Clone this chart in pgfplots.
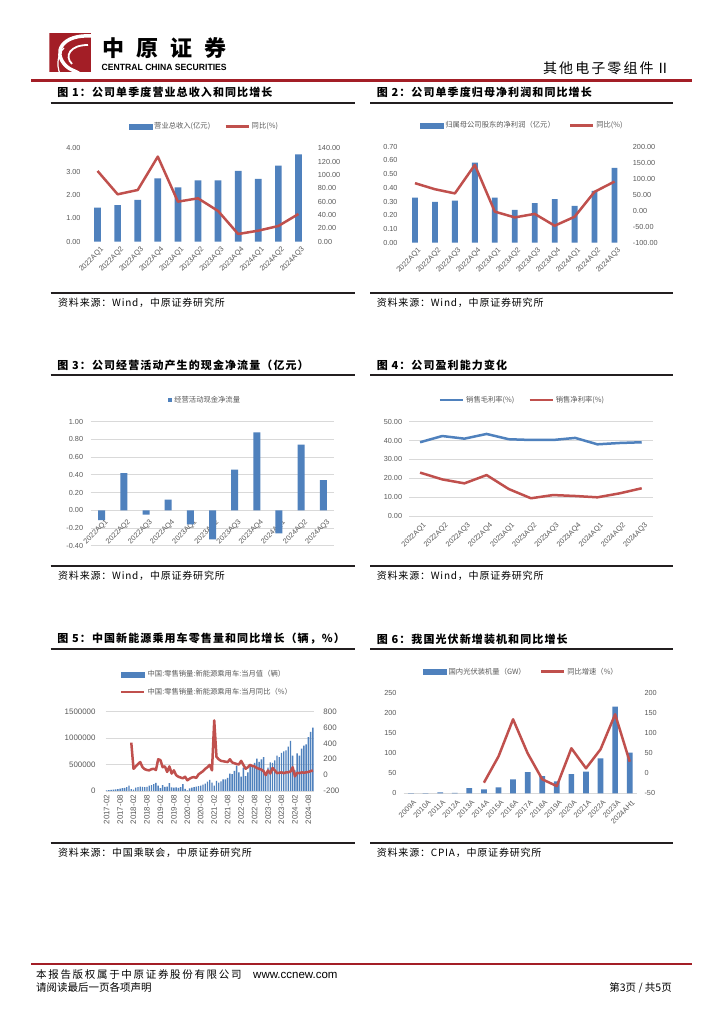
\documentclass[border=0pt]{standalone}
\usepackage{fontspec}
\usepackage{graphicx}
\usepackage{pgfplots}
\pgfplotsset{compat=1.18}
\setmainfont{Liberation Sans}
\newfontfamily\cjk{Noto Sans CJK SC}
\definecolor{cblue}{RGB}{79,129,189}
\definecolor{cred}{RGB}{192,80,77}
\definecolor{tickgray}{RGB}{89,89,89}
\definecolor{gridgray}{RGB}{217,217,217}
\definecolor{hred}{RGB}{163,30,38}
\definecolor{lineblk}{RGB}{35,31,32}
\newcommand\tickfont{\fontsize{7.3bp}{8.5bp}\selectfont}
\newcommand\tickfontb{\fontsize{7.9bp}{9bp}\selectfont}
\newcommand\legfont{\cjk\fontsize{7.3bp}{8.5bp}\selectfont}
\newcommand\titlefont{\cjk\bfseries\fontsize{11bp}{13bp}\selectfont\addfontfeature{LetterSpace=10}}
\newcommand\srcfont{\cjk\fontsize{10bp}{12bp}\selectfont\addfontfeature{LetterSpace=8}}

\pgfplotsset{
  base/.style={scale only axis, anchor=south west, axis line style={draw=none},
    major tick length=0pt, tick style={draw=none}, scaled y ticks=false,
    ticklabel style={font=\tickfont, text=tickgray},
    /pgf/number format/assume math mode=true, clip=false,
    legend style={draw=none, fill=none, font=\legfont, text=tickgray, legend cell align=left,
      inner sep=0pt, /tikz/every even column/.append style={column sep=12bp}}},
  yl/.style={yticklabel style={anchor=east, inner sep=0pt, xshift=-#1}},
  yr/.style={yticklabel style={anchor=west, inner sep=0pt, xshift=#1}},
  dec2/.style={yticklabel style={/pgf/number format/fixed, /pgf/number format/fixed zerofill, /pgf/number format/precision=2}},
  int/.style={yticklabel style={/pgf/number format/fixed, /pgf/number format/1000 sep={}}},
  xl45/.style 2 args={xticklabel style={xshift=#1, yshift=#2, rotate=45, anchor=north east, inner sep=0pt}},
  qx/.style={xmin=-0.5, xmax=10.5, xtick={0,...,10},
    xticklabels={2022AQ1,2022AQ2,2022AQ3,2022AQ4,2023AQ1,2023AQ2,2023AQ3,2023AQ4,2024AQ1,2024AQ2,2024AQ3}},
  barleg/.style={legend image code/.code={\fill[cblue] (0bp,-2.5bp) rectangle (23bp,2.5bp);}},
  redleg/.style={legend image code/.code={\draw[cred, line width=2.5bp] (0bp,0bp) -- (23bp,0bp);}},
  blueleg/.style={legend image code/.code={\draw[cblue, line width=2.5bp] (0bp,0bp) -- (23bp,0bp);}},
}

\begin{document}
\begin{tikzpicture}[x=1bp,y=1bp]
\fill[white] (0,0) rectangle (724,1024);
\path[use as bounding box] (0,0) rectangle (724,1024);

% ---------- header ----------
\begin{scope}
\clip (49.3,952.3) rectangle (91,990.7);
\fill[hred] (49.3,952.3) rectangle (91,990.7);
\draw[white, line width=3.5bp] (92,988) .. controls (62,990) and (52,972) .. (66,958) .. controls (70,954) and (76,953) .. (80,950);
\draw[white, line width=1.8bp] (88,979) .. controls (70,979) and (64,968) .. (72,960);
\draw[white, line width=1.2bp] (60,950) .. controls (56,960) and (58,970) .. (64,976);
\end{scope}
\node[anchor=center, inner sep=0pt] at (164.2,976) {\cjk\bfseries\fontsize{22bp}{24bp}\selectfont 中\hspace{12bp}原\hspace{12bp}证\hspace{12bp}券};
\node[anchor=center, inner sep=0pt] at (164.2,957) {\resizebox{125bp}{6.3bp}{\bfseries CENTRAL CHINA SECURITIES}};
\node[anchor=east, inner sep=0pt] at (670,955.7) {\cjk\fontsize{14bp}{16bp}\selectfont\addfontfeature{LetterSpace=15}其他电子零组件Ⅱ};
\draw[hred, line width=2.5bp] (31,943.5) -- (692,943.5);

% ---------- titles, rules, sources ----------
\node[anchor=west, inner sep=0pt] at (57.3,932) {\titlefont 图 1：公司单季度营业总收入和同比增长};
\node[anchor=west, inner sep=0pt] at (376.7,932) {\titlefont 图 2：公司单季度归母净利润和同比增长};
\draw[lineblk, line width=1.5bp] (50.7,921) -- (355,921);
\draw[lineblk, line width=1.5bp] (370,921) -- (673,921);
\draw[lineblk, line width=1.5bp] (50.7,731) -- (355,731);
\draw[lineblk, line width=1.5bp] (370,731) -- (673,731);
\node[anchor=west, inner sep=0pt] at (58,720.7) {\srcfont 资料来源：Wind，中原证券研究所};
\node[anchor=west, inner sep=0pt] at (376.7,720.7) {\srcfont 资料来源：Wind，中原证券研究所};

\node[anchor=west, inner sep=0pt] at (57.3,659) {\titlefont 图 3：公司经营活动产生的现金净流量（亿元）};
\node[anchor=west, inner sep=0pt] at (376.7,659) {\titlefont 图 4：公司盈利能力变化};
\draw[lineblk, line width=1.5bp] (50.7,649) -- (355,649);
\draw[lineblk, line width=1.5bp] (370,649) -- (673,649);
\draw[lineblk, line width=1.5bp] (50.7,458) -- (355,458);
\draw[lineblk, line width=1.5bp] (370,458) -- (673,458);
\node[anchor=west, inner sep=0pt] at (58,447.7) {\srcfont 资料来源：Wind，中原证券研究所};
\node[anchor=west, inner sep=0pt] at (376.7,447.7) {\srcfont 资料来源：Wind，中原证券研究所};

\node[anchor=west, inner sep=0pt] at (57.3,385) {\titlefont 图 5：中国新能源乘用车零售量和同比增长（辆，\%）};
\node[anchor=west, inner sep=0pt] at (376.7,385) {\titlefont 图 6：我国光伏新增装机和同比增长};
\draw[lineblk, line width=1.5bp] (50.7,375) -- (355,375);
\draw[lineblk, line width=1.5bp] (370,375) -- (673,375);
\draw[lineblk, line width=1.5bp] (50.7,181) -- (355,181);
\draw[lineblk, line width=1.5bp] (370,181) -- (673,181);
\node[anchor=west, inner sep=0pt] at (58,171) {\srcfont 资料来源：中国乘联会，中原证券研究所};
\node[anchor=west, inner sep=0pt] at (376.7,171) {\srcfont 资料来源：CPIA，中原证券研究所};

% ---------- footer ----------
\draw[hred, line width=2bp] (31,59.7) -- (692,59.7);
\node[anchor=west, inner sep=0pt] at (36,49) {\cjk\fontsize{10.5bp}{12bp}\selectfont\addfontfeature{LetterSpace=16}本报告版权属于中原证券股份有限公司};
\node[anchor=west, inner sep=0pt] at (253,49) {\fontsize{11.5bp}{13bp}\selectfont www.ccnew.com};
\node[anchor=west, inner sep=0pt] at (36,36) {\cjk\fontsize{10.5bp}{12bp}\selectfont 请阅读最后一页各项声明};
\node[anchor=east, inner sep=0pt] at (672,36) {\cjk\fontsize{10.5bp}{12bp}\selectfont 第3页 / 共5页};

% ---------- chart 1 ----------
\begin{axis}[base, at={(87.5bp,782.3bp)}, width=221bp, height=93.4bp, qx, xl45={2.5bp}{-4.5bp},
  ymin=0, ymax=4, ytick={0,1,2,3,4}, dec2, yl=6.8bp]
\addplot[ybar, bar width=6.7bp, fill=cblue, draw=none] coordinates {
(0,1.46) (1,1.57) (2,1.79) (3,2.71) (4,2.33) (5,2.63) (6,2.63) (7,3.03) (8,2.69) (9,3.26) (10,3.74)};
\end{axis}
\begin{axis}[base, at={(87.5bp,782.3bp)}, width=221bp, height=93.4bp, xmin=-0.5, xmax=10.5, xtick=\empty,
  axis y line*=right, ymin=0, ymax=140, ytick={0,20,40,60,80,100,120,140}, dec2, yr=9.2bp,
  legend columns=2, legend style={at={(0.529,1.234)}, anchor=center}]
\addlegendimage{barleg}\addlegendentry{营业总收入(亿元)}
\addplot[cred, line width=2.5bp, line join=round, redleg] coordinates {
(0,106) (1,71) (2,77.5) (3,127.5) (4,60) (5,65) (6,46) (7,11.5) (8,16.5) (9,23.5) (10,41.5)};
\addlegendentry{同比(\%)}
\end{axis}

% ---------- chart 2 ----------
\begin{axis}[base, at={(405bp,781.3bp)}, width=219.5bp, height=96bp, qx, xl45={2.5bp}{-4.5bp},
  ymin=0, ymax=0.7, ytick={0,0.1,0.2,0.3,0.4,0.5,0.6,0.7}, dec2, yl=7.3bp]
\addplot[ybar, bar width=5.8bp, fill=cblue, draw=none] coordinates {
(0,0.328) (1,0.297) (2,0.307) (3,0.584) (4,0.328) (5,0.239) (6,0.288) (7,0.317) (8,0.268) (9,0.377) (10,0.545)};
\end{axis}
\begin{axis}[base, at={(405bp,781.3bp)}, width=219.5bp, height=96bp, xmin=-0.5, xmax=10.5, xtick=\empty,
  axis y line*=right, ymin=-100, ymax=200, ytick={-100,-50,0,50,100,150,200}, dec2, yr=8.2bp,
  legend columns=2, legend style={at={(0.534,1.221)}, anchor=center}]
\addlegendimage{barleg}\addlegendentry{归属母公司股东的净利润（亿元）}
\addplot[cred, line width=2.5bp, line join=round, redleg] coordinates {
(0,86) (1,67) (2,54) (3,143) (4,-3) (5,-21) (6,-10) (7,-47) (8,-19) (9,59) (10,91)};
\addlegendentry{同比(\%)}
\end{axis}

% ---------- chart 3 ----------
\begin{axis}[base, at={(90.6bp,478.3bp)}, width=243.8bp, height=124bp, qx, xl45={3bp}{27bp},
  ymin=-0.4, ymax=1.0, ytick={-0.4,-0.2,0,0.2,0.4,0.6,0.8,1.0}, dec2, yl=7.3bp,
  ymajorgrids, major grid style={draw=gridgray, line width=0.8bp},
  legend style={at={(0.469,1.175)}, anchor=center}]
\addplot[ybar, bar width=7bp, fill=cblue, draw=none,
  legend image code/.code={\fill[cblue] (0bp,-2.3bp) rectangle (4.6bp,2.3bp);}] coordinates {
(0,-0.11) (1,0.42) (2,-0.05) (3,0.12) (4,-0.16) (5,-0.33) (6,0.46) (7,0.88) (8,-0.26) (9,0.74) (10,0.34)};
\addlegendentry{经营活动现金净流量}
\end{axis}

% ---------- chart 4 ----------
\begin{axis}[base, at={(409bp,508bp)}, width=243.8bp, height=94.3bp, qx, xl45={2.5bp}{-6bp},
  ymin=0, ymax=50, ytick={0,10,20,30,40,50}, dec2, yl=6.7bp,
  ymajorgrids, major grid style={draw=gridgray, line width=0.8bp},
  legend columns=2, legend style={at={(0.465,1.23)}, anchor=center}]
\addplot[cblue, line width=2.5bp, line join=round, blueleg] coordinates {
(0,39.1) (1,42.4) (2,41) (3,43.5) (4,40.7) (5,40.3) (6,40.3) (7,41.4) (8,38) (9,38.7) (10,39.1)};
\addlegendentry{销售毛利率(\%)}
\addplot[cred, line width=2.5bp, line join=round, redleg] coordinates {
(0,23) (1,19.4) (2,17.3) (3,21.7) (4,14.3) (5,9.4) (6,11.1) (7,10.6) (8,9.9) (9,12) (10,14.7)};
\addlegendentry{销售净利率(\%)}
\end{axis}

% ---------- chart 5 ----------
\begin{axis}[base, at={(105.5bp,233bp)}, width=208.5bp, height=79.3bp,
  ticklabel style={font=\tickfontb},
  xmin=-0.5, xmax=92.5, xtick={0,6,...,90},
  xticklabels={2017-02,2017-08,2018-02,2018-08,2019-02,2019-08,2020-02,2020-08,2021-02,2021-08,2022-02,2022-08,2023-02,2023-08,2024-02,2024-08},
  xticklabel style={yshift=-4bp, rotate=90, anchor=east, inner sep=0pt},
  ymin=0, ymax=1500000, ytick={0,500000,1000000,1500000}, int, yl=9.8bp,
  ymajorgrids, major grid style={draw=gridgray, line width=0.8bp}]
\addplot[ybar, bar width=1.4bp, fill=cblue, draw=none] coordinates {
(0,12000) (1,18000) (2,20000) (3,25000) (4,30000) (5,35000) (6,45000) (7,55000) (8,60000) (9,75000) (10,100000)
(11,35000) (12,25000) (13,65000) (14,75000) (15,85000) (16,80000) (17,75000) (18,80000) (19,100000) (20,110000) (21,130000) (22,155000)
(23,100000) (24,55000) (25,110000) (26,80000) (27,85000) (28,150000) (29,70000) (30,65000) (31,70000) (32,60000) (33,75000) (34,130000)
(35,40000) (36,10000) (37,50000) (38,65000) (39,75000) (40,85000) (41,90000) (42,100000) (43,120000) (44,140000) (45,175000) (46,210000)
(47,160000) (48,100000) (49,190000) (50,160000) (51,180000) (52,220000) (53,220000) (54,250000) (55,330000) (56,320000) (57,380000) (58,480000)
(59,350000) (60,270000) (61,440000) (62,280000) (63,350000) (64,500000) (65,470000) (66,530000) (67,610000) (68,550000) (69,600000) (70,640000)
(71,330000) (72,440000) (73,540000) (74,530000) (75,580000) (76,670000) (77,640000) (78,720000) (79,750000) (80,770000) (81,840000) (82,950000)
(83,670000) (84,390000) (85,710000) (86,670000) (87,800000) (88,860000) (89,880000) (90,1020000) (91,1120000) (92,1200000)};
\end{axis}
\begin{axis}[base, at={(105.5bp,233bp)}, width=208.5bp, height=79.3bp, xmin=-0.5, xmax=92.5, xtick=\empty,
  ticklabel style={font=\tickfontb},
  axis y line*=right, ymin=-200, ymax=800, ytick={-200,0,200,400,600,800}, int, yr=9.3bp,
  legend columns=1, legend style={at={(0.0695,1.358)}, anchor=west, row sep=6bp}]
\addlegendimage{barleg}\addlegendentry{中国:零售销量:新能源乘用车:当月值（辆）}
\addplot[cred, line width=2.5bp, line join=round, redleg] coordinates {
(11,410) (12,80) (13,110) (14,140) (15,165) (16,100) (17,75) (18,65) (19,60) (20,75) (21,80) (22,65)
(23,200) (24,190) (25,100) (26,110) (27,40) (28,110) (29,20) (30,60) (31,0) (32,-20) (33,-30) (34,-40)
(35,-20) (36,-65) (37,-45) (38,-30) (39,-25) (40,-35) (41,10) (42,30) (43,50) (44,80) (45,100) (46,130)
(47,60) (48,690) (49,230) (50,200) (51,180) (52,175) (53,170) (54,165) (55,200) (56,160) (57,150) (58,140)
(59,135) (60,180) (61,130) (62,80) (63,100) (64,130) (65,115) (66,110) (67,90) (68,80) (69,70) (70,50)
(71,0) (72,60) (73,20) (74,90) (75,60) (76,25) (77,30) (78,35) (79,25) (80,35) (81,35) (82,45)
(83,100) (84,-15) (85,30) (86,25) (87,35) (88,30) (89,35) (90,40) (91,50) (92,60)};
\addlegendentry{中国:零售销量:新能源乘用车:当月同比（\%）}
\end{axis}

% ---------- chart 6 ----------
\begin{axis}[base, at={(403.7bp,230.7bp)}, width=233.3bp, height=100bp,
  xmin=-0.5, xmax=15.5, xtick={0,...,15},
  xticklabels={2009A,2010A,2011A,2012A,2013A,2014A,2015A,2016A,2017A,2018A,2019A,2020A,2021A,2022A,2023A,2024AH1},
  xl45={2bp}{-6bp},
  ymin=0, ymax=250, ytick={0,50,100,150,200,250}, int, yl=7bp,
  extra y ticks={0}, extra y tick labels={}, extra y tick style={ymajorgrids=true, major grid style={draw=gridgray, line width=0.8bp}}]
\addplot[ybar, bar width=5.7bp, fill=cblue, draw=none] coordinates {
(0,0.2) (1,0.5) (2,2.5) (3,1.0) (4,13) (5,10) (6,15) (7,35) (8,53) (9,43) (10,30) (11,48) (12,54) (13,87.5) (14,216.5) (15,101.5)};
\end{axis}
\begin{axis}[base, at={(403.7bp,230.7bp)}, width=233.3bp, height=100bp, xmin=-0.5, xmax=15.5, xtick=\empty,
  axis y line*=right, ymin=-50, ymax=200, ytick={-50,0,50,100,150,200}, int, yr=7.3bp,
  legend columns=2, legend style={at={(0.505,1.216)}, anchor=center}]
\addlegendimage{barleg}\addlegendentry{国内光伏装机量（GW）}
\addplot[cred, line width=2.5bp, line join=round, redleg] coordinates {
(5,-23.5) (6,42) (7,135) (8,50) (9,-15) (10,-32) (11,62.5) (12,12.5) (13,60) (14,147.5) (15,29)};
\addlegendentry{同比增速（\%）}
\end{axis}

\end{tikzpicture}
\end{document}
